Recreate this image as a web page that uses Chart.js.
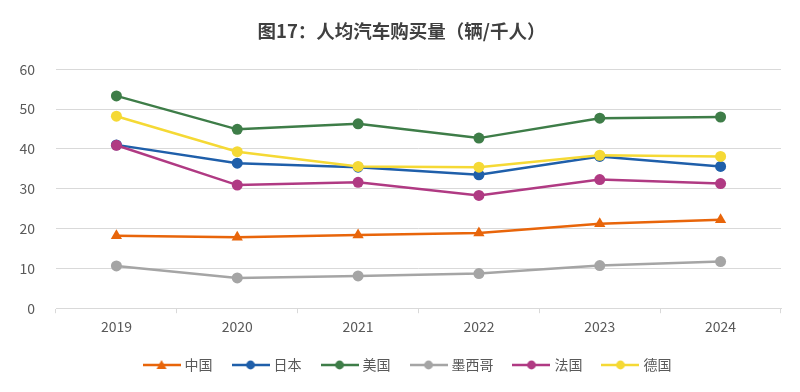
<!DOCTYPE html>
<html>
<head>
<meta charset="utf-8">
<script src="https://cdn.jsdelivr.net/npm/chart.js@4/dist/chart.umd.min.js"></script>
<style>
  body { margin: 0; background: #ffffff; }
  #wrap { width: 800px; height: 392px; }
</style>
</head>
<body>
<div id="wrap"><canvas id="myChart" width="800" height="392"></canvas></div>
<script>
//chart data
const years = ["2019", "2020", "2021", "2022", "2023", "2024"];
const seriesNames = ["中国", "日本", "美国", "墨西哥", "法国", "德国"];
const china = [18.2, 17.8, 18.4, 18.9, 21.2, 22.2];
const japan = [41.0, 36.4, 35.4, 33.5, 38.1, 35.6];
const usa = [53.3, 44.9, 46.3, 42.7, 47.7, 48.0];
const mexico = [10.6, 7.6, 8.1, 8.7, 10.7, 11.7];
const france = [40.9, 30.9, 31.6, 28.3, 32.3, 31.3];
const germany = [48.2, 39.3, 35.6, 35.4, 38.4, 38.1];
const yTicks = [0, 10, 20, 30, 40, 50, 60];

const colors = ["#e8650a", "#1f5faa", "#3e7d48", "#a5a5a5", "#b03a83", "#f5d935"];
const markers = ["triangle", "circle", "circle", "circle", "circle", "circle"];
const FONT = "'Noto Sans CJK SC', 'Noto Sans', sans-serif";

//small picture of line + marker for the legend
function legendIcon(color, marker) {
  let c = document.createElement("canvas");
  c.width = 38;
  c.height = 14;
  let ctx = c.getContext("2d");
  ctx.strokeStyle = color;
  ctx.fillStyle = color;
  ctx.lineWidth = 2.5;
  ctx.beginPath();
  ctx.moveTo(0, 7);
  ctx.lineTo(38, 7);
  ctx.stroke();
  ctx.beginPath();
  if (marker === "triangle") {
    ctx.moveTo(19, 2);
    ctx.lineTo(24, 11);
    ctx.lineTo(14, 11);
    ctx.closePath();
  } else {
    ctx.arc(19, 7, 4.4, 0, Math.PI * 2);
  }
  ctx.fill();
  return c;
}

//nudge the legend and title, like in the original picture
const boxShift = {
  id: "boxShift",
  afterLayout: function(chart) {
    chart.legend.left += 12;
    chart.legend.right += 12;
    chart.legend.top -= 4;
    chart.legend.bottom -= 4;
    chart.titleBlock.left += 5;
    chart.titleBlock.right += 5;
  }
};

function loadChart() {
  let allData = [china, japan, usa, mexico, france, germany];
  let datasets = [];
  for (let i = 0; i < allData.length; i++) {
    datasets.push({
      label: seriesNames[i],
      data: allData[i],
      borderColor: colors[i],
      backgroundColor: colors[i],
      borderWidth: 2.5,
      pointStyle: markers[i],
      pointRadius: markers[i] === "triangle" ? 6.5 : 5.5,
      pointBorderWidth: 0,
      order: allData.length - i,
      tension: 0
    });
  }
  let icons = colors.map((c, i) => legendIcon(c, markers[i]));
  let ctx = document.getElementById("myChart").getContext("2d");
  new Chart(ctx, {
    type: "line",
    data: {
      labels: years,
      datasets: datasets
    },
    plugins: [boxShift],
    options: {
      responsive: false,
      animation: false,
      layout: {
        padding: { left: 12, right: 19, top: 0, bottom: 6 }
      },
      plugins: {
        title: {
          display: true,
          text: "图17：人均汽车购买量（辆/千人）",
          color: "#404040",
          font: { family: FONT, size: 18.5, weight: "bold" },
          padding: { top: 20, bottom: 27 }
        },
        legend: {
          position: "bottom",
          labels: {
            usePointStyle: true,
            pointStyleWidth: 32,
            padding: 22,
            color: "#595959",
            font: { family: FONT, size: 14 },
            generateLabels: function(chart) {
              return chart.data.datasets.map((ds, i) => ({
                text: ds.label,
                pointStyle: icons[i],
                fillStyle: colors[i],
                strokeStyle: colors[i],
                lineWidth: 0,
                fontColor: "#595959",
                datasetIndex: i,
                hidden: false
              }));
            }
          }
        },
        tooltip: { enabled: false }
      },
      scales: {
        x: {
          offset: true,
          grid: {
            offset: true,
            drawOnChartArea: false,
            tickLength: 5,
            color: "#d9d9d9"
          },
          border: { color: "#d9d9d9" },
          ticks: {
            color: "#595959",
            padding: 5,
            font: { family: FONT, size: 14 }
          }
        },
        y: {
          min: yTicks[0],
          max: yTicks[yTicks.length - 1],
          afterBuildTicks: function(axis) {
            axis.ticks = yTicks.map(v => ({ value: v }));
          },
          afterFit: function(axis) {
            axis.width = 44;
          },
          grid: { color: "#d9d9d9", drawTicks: false },
          border: { display: false },
          ticks: {
            color: "#595959",
            padding: 21,
            font: { family: FONT, size: 14 }
          }
        }
      }
    }
  });
}

window.onload = function() {
  loadChart();
};
</script>
</body>
</html>
